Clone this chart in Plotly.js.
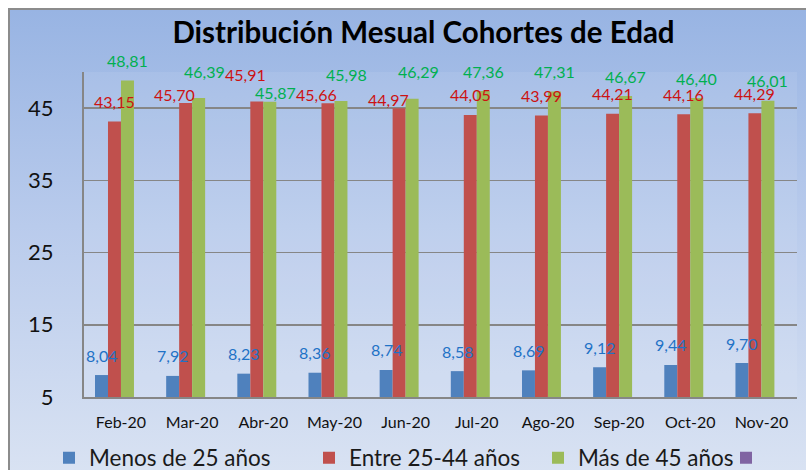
<!DOCTYPE html>
<html>
<head>
<meta charset="utf-8">
<script src="https://cdn.plot.ly/plotly-3.0.1.min.js"></script>
<style>
  html, body { margin: 0; padding: 0; background: #ffffff; }
  #wrap { position: relative; width: 806px; height: 470px; overflow: hidden; background: #ffffff; }
  #frame { position: absolute; left: 8px; top: 8px; width: 820px; height: 480px;
           border-left: 2px solid #8c8c8c; border-top: 2px solid #8c8c8c;
           background: linear-gradient(to bottom, #98b4e3 0%, #b9cbec 45%, #dbe4f3 100%); }
  #chart { position: absolute; left: 0; top: 0; width: 806px; height: 470px; }
</style>
</head>
<body>
<div id="wrap">
  <div id="frame"></div>
  <div id="chart"></div>
</div>
<script>
const categories = ["Feb-20", "Mar-20", "Abr-20", "May-20", "Jun-20", "Jul-20", "Ago-20", "Sep-20", "Oct-20", "Nov-20"];
const menos25 = [8.04, 7.92, 8.23, 8.36, 8.74, 8.58, 8.69, 9.12, 9.44, 9.70];
const entre25_44 = [43.15, 45.70, 45.91, 45.66, 44.97, 44.05, 43.99, 44.21, 44.16, 44.29];
const mas45 = [48.81, 46.39, 45.87, 45.98, 46.29, 47.36, 47.31, 46.67, 46.40, 46.01];
const seriesNames = ["Menos de 25 años", "Entre 25-44 años", "Más de 45 años", " "];
const yTicks = [5, 15, 25, 35, 45];

const barColors = ["#4f81bd", "#c0504d", "#9bbb59", "#8064a2"];
const labelColors = ["#1f72c6", "#cc1212", "#00b050"];
const seriesValues = [menos25, entre25_44, mas45, categories.map(() => null)];
const legendIds = ["legend", "legend2", "legend3", "legend4"];
const legendSymbolCenters = [69, 329, 558, 746];   // px, layout positions of legend entries

const FONT = "Lato, 'Open Sans', sans-serif";
const W = 806, H = 470;
const bargap = 0.27;
const nSeries = 4;
const barW = (1 - bargap) / nSeries;

const traces = seriesValues.map((vals, s) => ({
  type: "bar",
  x: categories,
  y: vals,
  name: seriesNames[s],
  legend: legendIds[s],
  marker: { color: barColors[s], line: { width: 0 } },
  hoverinfo: "none"
}));

// data labels (Excel-like placement: when the two tall labels collide,
// the lower one hugs its bar and the higher one is lifted and they spread sideways)
const annotations = [];
const series3 = [menos25, entre25_44, mas45];
series3.forEach((vals, s) => {
  const off = (s - (nSeries - 1) / 2) * barW;
  vals.forEach((v, i) => {
    let yshift = 20, xshift = 0;
    if (s > 0) {
      const r = entre25_44[i], g = mas45[i];
      if (Math.abs(r - g) < 1.5) {
        const mine = s === 1 ? r : g, other = s === 1 ? g : r;
        yshift = mine <= other ? 9 : 27;
        xshift = s === 1 ? -11 : 6;
      }
    }
    annotations.push({
      x: i + off, y: v, xref: "x", yref: "y",
      text: v.toFixed(2).replace(".", ","),
      showarrow: false, yanchor: "middle", yshift: yshift, xshift: xshift,
      font: { family: FONT, size: 16, color: labelColors[s] }
    });
  });
});

const layout = {
  width: W, height: H,
  margin: { l: 84, r: 9, t: 72, b: 73, autoexpand: false },
  paper_bgcolor: "rgba(0,0,0,0)",
  plot_bgcolor: "rgba(255,255,255,0.08)",
  font: { family: FONT, color: "#000000" },
  title: {
    text: "<b>Distribución Mesual Cohortes de Edad</b>",
    font: { family: FONT, size: 29.5, color: "#000000" },
    x: 423.5 / W, xref: "container", xanchor: "center",
    y: 1 - 33 / H, yref: "container", yanchor: "middle"
  },
  barmode: "group",
  bargap: bargap,
  bargroupgap: 0,
  xaxis: {
    type: "category",
    showline: true, linecolor: "#868686", linewidth: 2,
    ticks: "", showgrid: false,
    tickfont: { family: FONT, size: 16, color: "#111111", weight: 400 },
    ticklabelstandoff: 10
  },
  yaxis: {
    range: [5, 50],
    tickvals: yTicks,
    ticktext: yTicks.map(String),
    showline: true, linecolor: "#868686", linewidth: 2,
    showgrid: true, gridcolor: "#868686", gridwidth: 1.5,
    zeroline: false, ticks: "",
    tickfont: { family: FONT, size: 22, color: "#111111", weight: 400 },
    ticklabelstandoff: 24
  },
  showlegend: true,
  annotations: annotations
};

legendIds.forEach((id, s) => {
  layout[id] = {
    orientation: "h",
    xref: "container", yref: "container",
    x: (legendSymbolCenters[s] - 20) / W, xanchor: "left",
    y: 1 - 458 / H, yanchor: "middle",
    font: { family: FONT, size: 22.5, color: "#1a1a1a" },
    itemwidth: 30,
    bgcolor: "rgba(0,0,0,0)",
    borderwidth: 0
  };
});

Plotly.newPlot("chart", traces, layout, { displayModeBar: false, staticPlot: true });
</script>
</body>
</html>
